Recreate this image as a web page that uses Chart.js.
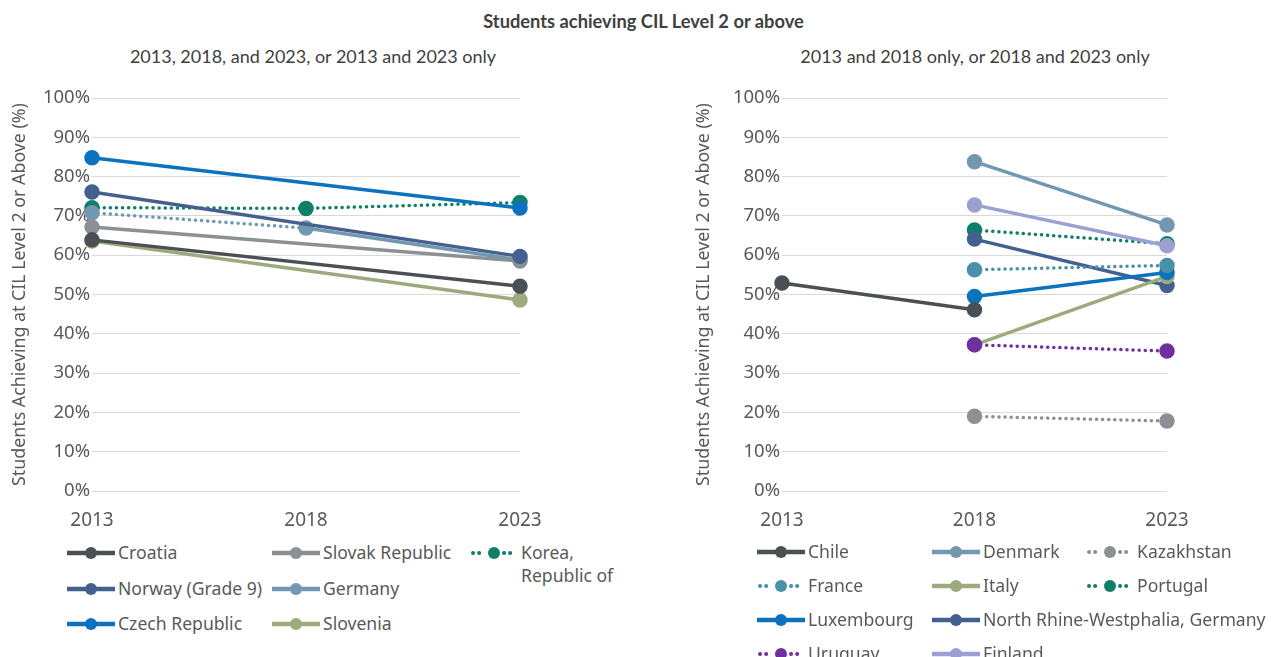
<!DOCTYPE html>
<html lang="en">
<head>
  <meta charset="UTF-8" />
  <title>Students achieving CIL Level 2 or above</title>
  <style>
    body {
      margin: 0;
      width: 1271px;
      height: 657px;
      overflow: hidden;
      background: #fff;
      position: relative;
      font-family: "Noto Sans", sans-serif;
      color: #595959;
    }
    .main-title {
      position: absolute;
      top: 10px;
      left: 0;
      width: 1287px;
      text-align: center;
      font-family: Lato, sans-serif;
      font-weight: bold;
      font-size: 18.3px;
      color: #404040;
    }
    .sub-title {
      position: absolute;
      top: 45px;
      width: 600px;
      text-align: center;
      font-family: Lato, sans-serif;
      font-size: 18px;
      color: #404040;
    }
    .chart-box {
      position: absolute;
      top: 80px;
      height: 460px;
    }
    .legend {
      position: absolute;
      display: grid;
      grid-auto-flow: column;
      font-size: 17.6px;
      line-height: 23px;
    }
    .legend .item {
      display: flex;
      align-items: flex-start;
      white-space: nowrap;
    }
    .legend svg { flex: none; margin-right: 3px; }
    #leftLegend .item:nth-child(7) span { white-space: normal; width: 100px; }
  </style>
</head>
<body>
  <div class="main-title">Students achieving CIL Level 2 or above</div>
  <div class="sub-title" style="left:13px">2013, 2018, and 2023, or 2013 and 2023 only</div>
  <div class="sub-title" style="left:675px">2013 and 2018 only, or 2018 and 2023 only</div>

  <div class="chart-box" style="left:0; width:640px"><canvas id="leftChart"></canvas></div>
  <div class="chart-box" style="left:684px; width:587px"><canvas id="rightChart"></canvas></div>

  <div class="legend" id="leftLegend" style="left:67px; top:541px; grid-template-columns:205px 198px 150px; grid-template-rows:repeat(3, 35.5px)"></div>
  <div class="legend" id="rightLegend" style="left:757px; top:540px; grid-template-columns:175px 154px 150px; grid-template-rows:repeat(4, 34px)"></div>

  <script src="https://cdn.jsdelivr.net/npm/chart.js"></script>
  <script>
    const years = ['2013', '2018', '2023'];

    // left panel: 2013, 2018, and 2023, or 2013 and 2023 only
    const croatia = [63.9, null, 52.1];
    const norway = [76.1, null, 59.7];
    const czechRepublic = [84.8, null, 72.0];
    const slovakRepublic = [67.2, null, 58.5];
    const germany = [70.8, 66.9, 58.8];
    const slovenia = [63.6, null, 48.6];
    const korea = [72.1, 71.9, 73.4];

    // right panel: 2013 and 2018 only, or 2018 and 2023 only
    const chile = [52.9, 46.1, null];
    const france = [null, 56.3, 57.4];
    const luxembourg = [null, 49.5, 55.6];
    const uruguay = [null, 37.2, 35.6];
    const denmark = [null, 83.8, 67.7];
    const italy = [null, 37.2, 54.6];
    const northRhineWestphalia = [null, 64.1, 52.3];
    const finland = [null, 72.8, 62.4];
    const kazakhstan = [null, 19.0, 17.8];
    const portugal = [null, 66.4, 62.9];

    const yTicks = ['0%', '10%', '20%', '30%', '40%', '50%', '60%', '70%', '80%', '90%', '100%'];

    const C = {
      dark: '#4b5054',
      gray: '#8c8f93',
      green: '#0f7f68',
      navy: '#44608f',
      steel: '#7198b0',
      blue: '#0b72be',
      olive: '#9dab7c',
      teal: '#4a90a9',
      purple: '#7030a0',
      lavender: '#9b9fd1'
    };

    function series(label, data, color, dotted, dottedSegments) {
      return { label, data, color, dotted, dottedSegments: dottedSegments || [] };
    }

    // listed in legend order (column by column); first one is drawn on top
    const leftSeries = [
      series('Croatia', croatia, C.dark, false),
      series('Norway (Grade 9)', norway, C.navy, false),
      series('Czech Republic', czechRepublic, C.blue, false),
      series('Slovak Republic', slovakRepublic, C.gray, false),
      series('Germany', germany, C.steel, false, [0]),
      series('Slovenia', slovenia, C.olive, false),
      series('Korea, Republic of', korea, C.green, true)
    ];

    const rightSeries = [
      series('Chile', chile, C.dark, false),
      series('France', france, C.teal, true),
      series('Luxembourg', luxembourg, C.blue, false),
      series('Uruguay', uruguay, C.purple, true),
      series('Denmark', denmark, C.steel, false),
      series('Italy', italy, C.olive, false),
      series('North Rhine-Westphalia, Germany', northRhineWestphalia, C.navy, false),
      series('Finland', finland, C.lavender, false),
      series('Kazakhstan', kazakhstan, C.gray, true),
      series('Portugal', portugal, C.green, true)
    ];

    const DOTS = [0.1, 6];

    function buildChart(id, list, axisWidth, rightPad) {
      return new Chart(document.getElementById(id), {
        type: 'line',
        data: {
          labels: years,
          datasets: list.map(s => {
            const dotted = ctx => s.dotted || s.dottedSegments.includes(ctx.p0DataIndex);
            return {
              label: s.label,
              data: s.data,
              borderColor: s.color,
              backgroundColor: s.color,
              pointBackgroundColor: s.color,
              pointBorderColor: s.color,
              borderWidth: 3.5,
              segment: {
                borderDash: ctx => dotted(ctx) ? DOTS : [],
                borderCapStyle: ctx => dotted(ctx) ? 'round' : 'butt'
              },
              pointRadius: 6,
              pointHoverRadius: 6,
              spanGaps: true,
              tension: 0
            };
          })
        },
        options: {
          responsive: true,
          maintainAspectRatio: false,
          animation: false,
          layout: { padding: { top: 18, right: rightPad, bottom: 0, left: 0 } },
          plugins: {
            legend: { display: false },
            tooltip: { enabled: false }
          },
          scales: {
            x: {
              offset: false,
              grid: { display: false },
              border: { display: false },
              ticks: {
                color: '#595959',
                padding: 10,
                font: { family: 'Noto Sans', size: 19 }
              },
              afterFit: scale => { scale.height = 49; }
            },
            y: {
              min: 0,
              max: 100,
              grid: { color: '#d9d9d9', lineWidth: 1, drawTicks: false },
              border: { display: false },
              ticks: {
                stepSize: 10,
                padding: 2,
                color: '#595959',
                font: { family: 'Noto Sans', size: 18.5 },
                callback: (v, i) => yTicks[i]
              },
              title: {
                display: true,
                text: 'Students Achieving at CIL Level 2 or Above (%)',
                color: '#595959',
                font: { family: 'Noto Sans', size: 17.8 },
                padding: { top: 9, bottom: 0 }
              },
              afterFit: scale => { scale.width = axisWidth; }
            }
          }
        }
      });
    }

    function swatch(s) {
      const dash = 'stroke-dasharray="0.1 6" stroke-linecap="round"';
      const line = s.dotted
        ? `<line x1="3" y1="8" x2="15" y2="8" stroke="${s.color}" stroke-width="4" ${dash}/><line x1="34" y1="8" x2="46" y2="8" stroke="${s.color}" stroke-width="4" ${dash}/>`
        : `<line x1="0" y1="8" x2="48" y2="8" stroke="${s.color}" stroke-width="4.5"/>`;
      return `<svg width="48" height="16" style="margin-top:4px">${line}<circle cx="24" cy="8" r="6" fill="${s.color}"/></svg>`;
    }

    function buildLegend(id, list) {
      document.getElementById(id).innerHTML = list.map(s =>
        `<div class="item">${swatch(s)}<span>${s.label}</span></div>`).join('');
    }

    buildChart('leftChart', leftSeries, 92, 120);
    buildChart('rightChart', rightSeries, 98, 104);
    buildLegend('leftLegend', leftSeries);
    buildLegend('rightLegend', rightSeries);
  </script>
</body>
</html>
